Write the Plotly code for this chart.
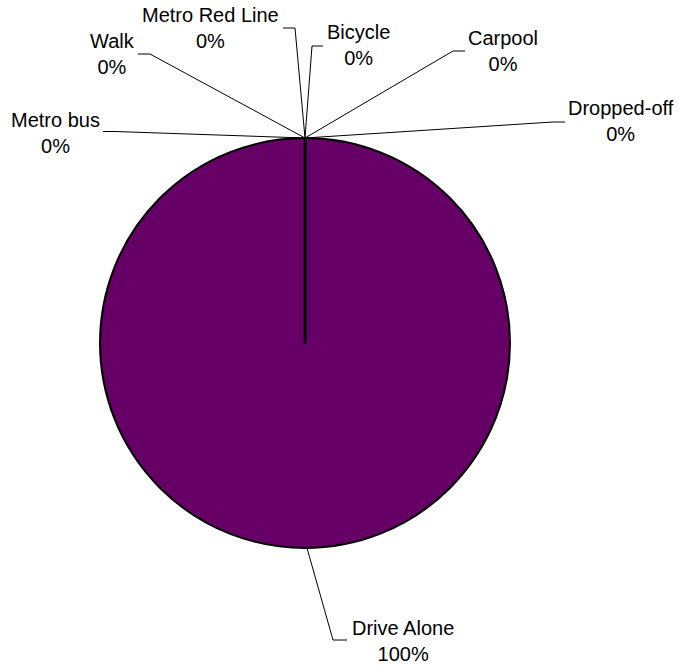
import plotly.graph_objects as go

# ---- data ----
labels = ["Drive Alone", "Carpool", "Dropped-off", "Metro bus", "Walk", "Metro Red Line", "Bicycle"]
values = [100, 0, 0, 0, 0, 0, 0]
colors = ["#660066", "#993366", "#ffffcc", "#ccffff", "#660066", "#ff8080", "#0066cc"]

# ---- layout constants (pixels in the 679x668 canvas) ----
W, H = 679, 668
pie_left, pie_right, pie_top, pie_bottom = 100, 510, 138, 548
# label centre (x, middle y), leader elbow (x, y), leader end near text (x, y)
label_layout = {
    "Drive Alone":    ((403, 641), (333, 640), (347, 640)),
    "Carpool":        ((503, 51), (453, 51), (465, 51)),
    "Dropped-off":    ((621, 121), (553, 122), (565, 122)),
    "Metro bus":      ((55, 133), (115, 131.5), (103, 131.5)),
    "Walk":           ((112, 54), (150, 54), (138, 54)),
    "Metro Red Line": ((210, 28), (295, 28), (283, 28)),
    "Bicycle":        ((358, 45), (312, 46), (323, 46)),
}

def px(x):
    return x / W

def py(y):
    return 1 - y / H

cx = (pie_left + pie_right) / 2
cy = (pie_top + pie_bottom) / 2
r = (pie_right - pie_left) / 2

total = sum(values)

fig = go.Figure(go.Pie(
    labels=labels,
    values=values,
    marker=dict(colors=colors, line=dict(color="black", width=2)),
    textinfo="none",
    sort=False,
    direction="clockwise",
    rotation=0,
    hoverinfo="label+percent",
    domain=dict(x=[px(pie_left), px(pie_right)], y=[py(pie_bottom), py(pie_top)]),
    showlegend=False,
))

shapes = []
annotations = []
# radial border at the slice start (top)
shapes.append(dict(type="line", xref="paper", yref="paper",
                   x0=px(cx), y0=py(cy), x1=px(cx), y1=py(cy - r),
                   line=dict(color="black", width=3)))

for lab, val in zip(labels, values):
    (tx, ty), (ex, ey), (sx, sy) = label_layout[lab]
    pct = round(100 * val / total)
    annotations.append(dict(
        x=px(tx), y=py(ty), xref="paper", yref="paper",
        text=f"{lab}<br>{pct}%", showarrow=False,
        xanchor="center", yanchor="middle", align="center",
        font=dict(family="Liberation Sans, Arial, sans-serif", size=20, color="black"),
    ))
    # anchor on pie edge: zero slices sit at the top; the full slice at the bottom
    if val == total:
        ax, ay = cx + 2, cy + r
    else:
        ax, ay = cx, cy - r
    shapes.append(dict(type="path", xref="paper", yref="paper",
                       path=f"M {px(ax)},{py(ay)} L {px(ex)},{py(ey)} L {px(sx)},{py(sy)}",
                       line=dict(color="black", width=1)))

fig.update_layout(
    width=W, height=H,
    margin=dict(l=0, r=0, t=0, b=0),
    paper_bgcolor="white", plot_bgcolor="white",
    shapes=shapes, annotations=annotations,
)

fig.write_html("out.html", config={"displayModeBar": False},
               post_script="document.body.style.margin='0px';document.body.style.overflow='hidden';")
